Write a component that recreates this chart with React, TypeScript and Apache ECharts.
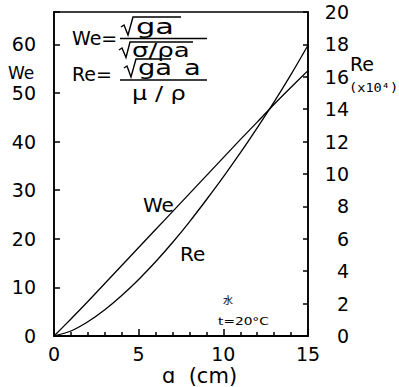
import React, { useEffect, useRef } from "react";
import * as echarts from "echarts";

// radius a (cm)
const aCm = [0, 1, 2, 3, 4, 5, 6, 7, 8, 9, 10, 11, 12, 13, 14, 15];
// Weber number (left axis)
const weValues = [0, 3.5, 7.1, 10.8, 14.5, 18.2, 21.9, 25.6, 29.3, 33.0, 36.7, 40.4, 44.0, 47.7, 51.2, 54.6];
// Reynolds number, x10^4 (right axis)
const reValues = [0, 0.31, 0.88, 1.62, 2.5, 3.49, 4.58, 5.77, 7.05, 8.41, 9.82, 11.3, 12.85, 14.45, 16.15, 17.95];

const FONT = "DejaVu Sans";
const INK = "#000";

function txt(text: string, x: number, y: number, size: number, extra: any = {}) {
  const { family, scaleX, ...style } = extra;
  return {
    type: "text",
    x,
    y,
    scaleX: scaleX ?? 1,
    silent: true,
    style: {
      text,
      x: 0,
      y: 0,
      fill: INK,
      font: `${size}px "${family ?? FONT}"`,
      align: "left",
      verticalAlign: "middle",
      ...style,
    },
  };
}

function stroke(points: number[][], w = 1.4) {
  return {
    type: "polyline",
    silent: true,
    shape: { points },
    style: { stroke: INK, lineWidth: w, fill: null },
  };
}

export default function App() {
  const ref = useRef<HTMLDivElement>(null);

  useEffect(() => {
    if (!ref.current) return;
    const chart = echarts.init(ref.current, null, { renderer: "svg" });

    const graphic = [
      // left axis name
      txt("We", 8, 73, 17),
      // We = sqrt(g a) / sqrt(sigma / (rho a))
      txt("We=", 72, 38, 19),
      stroke([[120, 38.5], [207, 38.5]]),
      stroke([[121, 27], [124, 25], [128, 35], [133, 17], [181, 17]]),
      txt("ga", 136, 27, 21, { scaleX: 1.45 }),
      stroke([[119, 50], [122, 48], [126, 57.5], [130, 42], [193, 42]]),
      txt("σ/ρa", 132, 50, 20, { scaleX: 1.3 }),
      // Re = sqrt(g a) a / (mu / rho)
      txt("Re=", 72, 74, 19),
      stroke([[120, 80], [207, 80]]),
      stroke([[124, 68], [127, 66], [131, 77], [136, 59], [171, 59]]),
      txt("ga", 138, 68, 21, { scaleX: 1.3 }),
      txt("a", 184, 68, 21, { scaleX: 1.3 }),
      txt("μ / ρ", 132, 93, 20, { scaleX: 1.2 }),
      // right axis name
      txt("Re", 350, 64, 19),
      txt("(x10⁴)", 349, 88, 13, { family: "DejaVu Sans Mono", scaleX: 1.05 }),
      // curve labels
      txt("We", 143, 205, 20),
      txt("Re", 180, 254, 20),
      // conditions
      txt("水", 223, 299, 10, { family: "Noto Sans CJK JP" }),
      txt("t=20°C", 218, 321, 11, { scaleX: 1.25 }),
      // x axis name
      txt("ɑ  (cm)", 162, 376, 21),
    ];

    chart.setOption({
      animation: false,
      backgroundColor: "#fff",
      grid: {
        left: 54,
        right: 91,
        top: 12,
        bottom: 51,
        show: true,
        borderColor: INK,
        borderWidth: 1.5,
        backgroundColor: "transparent",
      },
      xAxis: {
        type: "value",
        min: 0,
        max: 15,
        interval: 5,
        axisLine: { show: true, onZero: false, lineStyle: { color: INK, width: 1.8 } },
        axisTick: { show: true, inside: true, length: 7, lineStyle: { color: INK, width: 1.5 } },
        minorTick: { show: true, splitNumber: 5, length: 4, lineStyle: { color: INK, width: 1.5 } },
        splitLine: { show: false },
        axisLabel: { color: INK, fontSize: 19, fontFamily: FONT, margin: 8 },
      },
      yAxis: [
        {
          type: "value",
          min: 0,
          max: 200 / 3,
          interval: 10,
          position: "left",
          axisLine: { show: true, onZero: false, lineStyle: { color: INK, width: 1.6 } },
          axisTick: { show: true, inside: true, length: 6, lineStyle: { color: INK, width: 1.5 } },
          splitLine: { show: false },
          axisLabel: {
            color: INK,
            fontSize: 19,
            fontFamily: FONT,
            margin: 18,
            formatter: (v: number) => (v > 60.5 ? "" : String(Math.round(v))),
          },
        },
        {
          type: "value",
          min: 0,
          max: 20,
          interval: 2,
          position: "right",
          axisLine: { show: true, onZero: false, lineStyle: { color: INK, width: 1.6 } },
          axisTick: { show: true, inside: true, length: 5, lineStyle: { color: INK, width: 1.5 } },
          splitLine: { show: false },
          axisLabel: { color: INK, fontSize: 19, fontFamily: FONT, margin: 41, align: "right" },
        },
      ],
      series: [
        {
          name: "We",
          type: "line",
          yAxisIndex: 0,
          data: aCm.map((a, i) => [a, weValues[i]]),
          showSymbol: false,
          smooth: 0.3,
          lineStyle: { color: INK, width: 1.3 },
        },
        {
          name: "Re",
          type: "line",
          yAxisIndex: 1,
          data: aCm.map((a, i) => [a, reValues[i]]),
          showSymbol: false,
          smooth: 0.3,
          lineStyle: { color: INK, width: 1.3 },
        },
      ],
      graphic,
    });

    return () => chart.dispose();
  }, []);

  return <div ref={ref} style={{ width: 399, height: 387, position: "absolute", left: 0, top: 0 }} />;
}
